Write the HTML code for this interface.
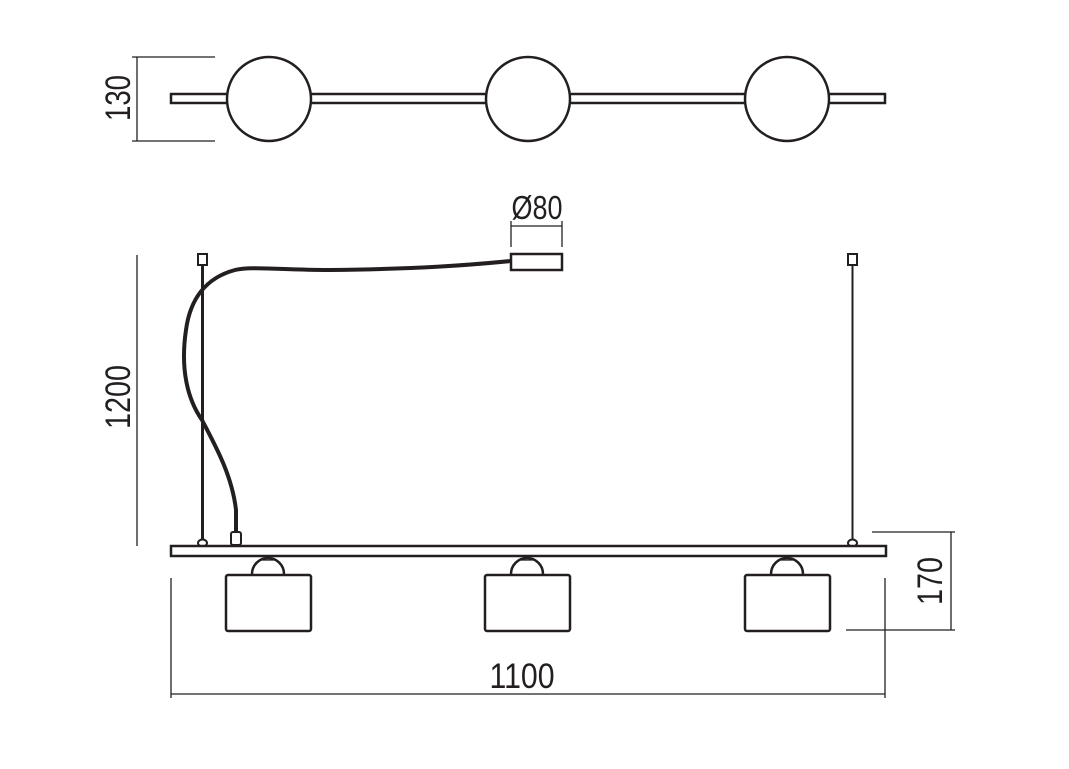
<!DOCTYPE html>
<html><head><meta charset="utf-8"><style>html,body{margin:0;padding:0;background:#fff}svg{display:block}</style></head>
<body>
<svg width="1069" height="769" viewBox="0 0 1069 769" xmlns="http://www.w3.org/2000/svg" font-family="'Liberation Sans Narrow','Liberation Sans',sans-serif" fill="none" stroke="#231f20">
<!-- top view -->
<line x1="132" y1="57" x2="215" y2="57" stroke-width="1.3"/>
<line x1="132" y1="141" x2="215" y2="141" stroke-width="1.3"/>
<line x1="137" y1="57" x2="137" y2="141" stroke-width="1.3"/>
<text x="0" y="0" transform="translate(130,98) rotate(-90)" text-anchor="middle" font-size="35" fill="#231f20" stroke="none" textLength="46" lengthAdjust="spacingAndGlyphs">130</text>
<rect x="171" y="94" width="714" height="9" stroke-width="2.5" fill="#fff"/>
<circle cx="269" cy="99" r="42" stroke-width="2.5" fill="#fff"/>
<circle cx="528" cy="99" r="42" stroke-width="2.5" fill="#fff"/>
<circle cx="787" cy="99" r="42" stroke-width="2.5" fill="#fff"/>
<!-- Ø80 -->
<text x="537" y="219" text-anchor="middle" font-size="33" fill="#231f20" stroke="none" textLength="51" lengthAdjust="spacingAndGlyphs">Ø80</text>
<line x1="511" y1="226" x2="562" y2="226" stroke-width="1.3"/>
<line x1="511" y1="221" x2="511" y2="247" stroke-width="1.3"/>
<line x1="562" y1="221" x2="562" y2="247" stroke-width="1.3"/>
<!-- 1200 -->
<line x1="137" y1="255" x2="137" y2="546" stroke-width="1.3"/>
<text x="0" y="0" transform="translate(130,397) rotate(-90)" text-anchor="middle" font-size="35" fill="#231f20" stroke="none" textLength="64" lengthAdjust="spacingAndGlyphs">1200</text>
<!-- wires -->
<rect x="198" y="254" width="9" height="11" stroke-width="2" fill="#fff"/>
<line x1="202.5" y1="265" x2="202.5" y2="541" stroke-width="3"/>
<rect x="848" y="254" width="9" height="11" stroke-width="2" fill="#fff"/>
<line x1="852.5" y1="265" x2="852.5" y2="541" stroke-width="2"/>
<ellipse cx="202.5" cy="543" rx="4.5" ry="3.5" stroke-width="2" fill="#fff"/>
<ellipse cx="852.5" cy="543" rx="4.5" ry="3.5" stroke-width="2" fill="#fff"/>
<!-- cable -->
<path d="M511 261 C470 265 420 269 330 270 C280 270 250 266 235 270 C205 278 190 300 186 330 C180 370 188 400 202 420 C215 445 232 475 236 510 L236 533" stroke-width="4"/>
<rect x="231" y="532" width="10" height="13" rx="2" stroke-width="2" fill="#fff"/>
<rect x="511" y="254" width="51" height="16" stroke-width="2.5" fill="#fff"/>
<!-- bar -->
<rect x="171" y="546" width="715" height="10" stroke-width="2.5" fill="#fff"/>
<!-- lamps -->
<g stroke-width="2.5" fill="#fff">
<path d="M252 574 A16 16 0 0 1 284 574"/>
<path d="M511 574 A16 16 0 0 1 543 574"/>
<path d="M771 574 A16 16 0 0 1 803 574"/>
<rect x="226" y="575" width="85" height="56" rx="2"/>
<rect x="485" y="575" width="85" height="56" rx="2"/>
<rect x="745" y="575" width="85" height="56" rx="2"/>
</g>
<g stroke-width="1.3">
<line x1="262" y1="560" x2="274" y2="560"/>
<line x1="521" y1="560" x2="533" y2="560"/>
<line x1="781" y1="560" x2="793" y2="560"/>
</g>
<!-- 170 -->
<line x1="872" y1="532" x2="955" y2="532" stroke-width="1.3"/>
<line x1="846" y1="630" x2="955" y2="630" stroke-width="1.3"/>
<line x1="951" y1="532" x2="951" y2="630" stroke-width="1.3"/>
<text x="0" y="0" transform="translate(942,581) rotate(-90)" text-anchor="middle" font-size="35" fill="#231f20" stroke="none" textLength="48" lengthAdjust="spacingAndGlyphs">170</text>
<!-- 1100 -->
<line x1="171" y1="578" x2="171" y2="698" stroke-width="1.3"/>
<line x1="885" y1="578" x2="885" y2="698" stroke-width="1.3"/>
<line x1="171" y1="694" x2="885" y2="694" stroke-width="1.3"/>
<text x="522" y="688" text-anchor="middle" font-size="35" fill="#231f20" stroke="none" textLength="65" lengthAdjust="spacingAndGlyphs">1100</text>
</svg>
</body></html>
